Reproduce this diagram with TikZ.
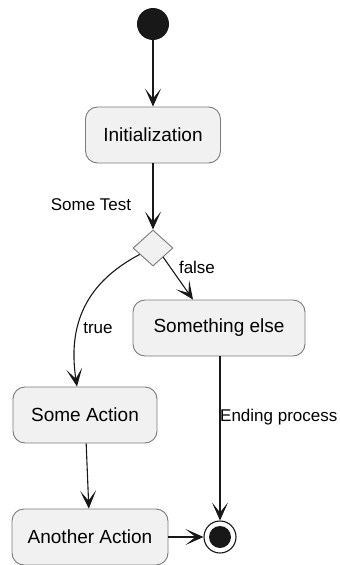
\documentclass[tikz,border=0pt]{standalone}
\usepackage{fontspec}
\setmainfont{Liberation Sans}
\usetikzlibrary{shapes.geometric,arrows.meta,calc}
\definecolor{boxfill}{HTML}{F1F1F1}
\definecolor{boxline}{HTML}{7A7A7A}
\definecolor{ink}{HTML}{181818}
\begin{document}
\begin{tikzpicture}[x=1pt,y=-1pt,
  act/.style={draw=boxline,fill=boxfill,line width=0.9pt,rounded corners=12pt,
    minimum height=56pt,inner sep=0pt,font=\fontsize{19}{22}\selectfont},
  lbl/.style={font=\fontsize{17}{20}\selectfont,inner sep=1pt},
  flow/.style={draw=ink,line width=1.1pt,
    -{Stealth[length=18pt,width=16pt,inset=10pt]}}]
\useasboundingbox (0,0) rectangle (340,565);
\node[circle,fill=ink,minimum size=32pt,inner sep=0pt] (start) at (153,24) {};
\node[act,minimum width=135pt] (init) at (153,135) {Initialization};
\node[diamond,draw=boxline,fill=boxfill,line width=0.9pt,minimum width=40pt,
  minimum height=36pt,inner sep=0pt] (d) at (153,248) {};
\node[act,minimum width=172pt] (else) at (219,328) {Something else};
\node[act,minimum width=144pt] (some) at (85,415) {Some Action};
\node[act,minimum width=156pt] (another) at (90,537) {Another Action};
\node[circle,draw=ink,fill=white,line width=1.1pt,minimum size=32pt,inner sep=0pt] (end) at (220,537) {};
\node[circle,fill=ink,minimum size=22pt,inner sep=0pt] (endin) at (end.center) {};
\node[lbl] (ltest) at (91,205) {Some Test};
\node[lbl] (lfalse) at (197,267) {false};
\node[lbl] (ltrue) at (98,328) {true};
\node[lbl,anchor=west] (lend) at (219,417) {Ending process};
\coordinate (tstart) at ($(d.west)!0.35!(d.south)$);
\draw[flow] (start) -- (init);
\draw[flow] (init) -- (d.north);
\draw[flow] (d.south east) -- ([xshift=-26pt]else.north);
\draw[flow] (tstart) .. controls (95,278) and (66,315) .. ([xshift=-8pt]some.north);
\draw[flow] (some) -- (another);
\draw[flow] (another) -- (end);
\draw[flow] (end |- else.south) -- (end.north);
\end{tikzpicture}
\end{document}
